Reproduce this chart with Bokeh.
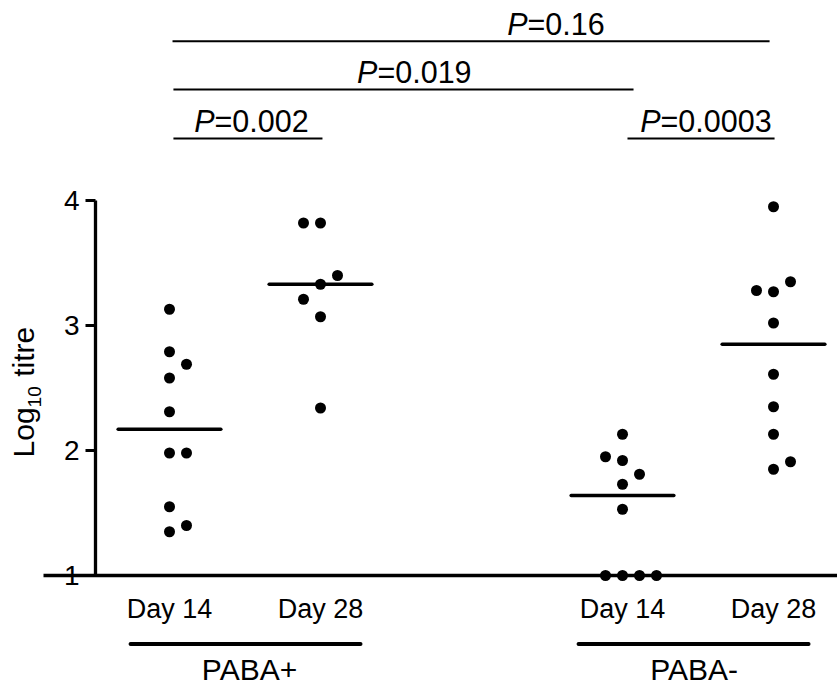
import math

from bokeh.plotting import figure
from bokeh.models import LinearAxis, FixedTicker, Range1d
from bokeh.core.properties import value
from bokeh.embed import file_html
from bokeh.resources import INLINE

# ---- data: log10 antibody titres ---------------------------------------
column_labels = ["Day 14", "Day 28", "Day 14", "Day 28"]
group_labels = ["PABA+", "PABA-"]

paba_plus_day14 = [3.13, 2.79, 2.69, 2.58, 2.31, 1.98, 1.98, 1.55, 1.40, 1.35]
paba_plus_day28 = [3.82, 3.82, 3.40, 3.33, 3.21, 3.07, 2.34]
paba_minus_day14 = [2.13, 1.95, 1.92, 1.81, 1.73, 1.53, 1.00, 1.00, 1.00, 1.00]
paba_minus_day28 = [3.95, 3.35, 3.28, 3.27, 3.02, 2.61, 2.35, 2.13, 1.91, 1.85]
column_means = [2.17, 3.33, 1.64, 2.85]

# pairwise comparisons: (column a, column b, P value text)
comparison_a = [0, 0, 1, 2]
comparison_b = [1, 2, 3, 3]
comparison_p = ["=0.002", "=0.019", "=0.16", "=0.0003"]

# axis title pieces: main text, subscript, main text
title_parts = ["Log", "10", "titre"]

# ---- layout -------------------------------------------------------------
FONT_NAME = "Liberation Sans"
FONT = value(FONT_NAME)
col_x = [1, 2, 4, 5]
dot_step = 0.1126
# side-by-side slots for overlapping points in each column
slots = [
    [0, 0, 1, 0, 0, 0, 1, 0, 1, 0],
    [-1, 0, 1, 0, -1, 0, 0],
    [0, -1, 0, 1, 0, 0, -1, 0, 1, 2],
    [0, 1, -1, 0, 0, 0, 0, 0, 1, 0],
]
mean_half = 0.34

# comparison bars: level and horizontal extent
bar_y = [4.496, 4.888, 5.274, 4.496]
bar_x0 = [1.026, 1.026, 1.020, 4.033]
bar_x1 = [2.013, 4.073, 4.974, 5.007]
label_anchor = [1.298, 2.377, 3.371, 4.252]
label_lift = 0.14

# group brackets under the day labels
group_x0 = [0.742, 3.709]
group_x1 = [2.265, 5.232]
group_line_y = 0.452
group_text_x = [1.53, 4.474]
group_text_y = 0.245

# rotated axis title: start of each piece along the axis, and its offset
title_x = [0.032, 0.032 + 0.072, 0.032]
title_y = [1.945, 2.345, 2.59]
title_sizes = ["30px", "19px", "30px"]

p = figure(
    width=837, height=688,
    x_range=Range1d(-0.1192, 5.4238), y_range=Range1d(0.096, 5.6),
    output_backend="svg", toolbar_location=None,
    x_axis_location=None, y_axis_location=None,
    min_border=0,
)
p.outline_line_color = None
p.grid.grid_line_color = None
p.background_fill_color = "white"
p.border_fill_color = "white"

# y axis
yaxis = LinearAxis(
    fixed_location=0.510, bounds=(1, 4),
    ticker=FixedTicker(ticks=[1, 2, 3, 4]),
    axis_line_width=3.3, axis_line_color="black",
    major_tick_line_width=3.0, major_tick_line_color="black",
    major_tick_out=10, major_tick_in=0,
    minor_tick_line_color=None,
    major_label_text_font=FONT_NAME, major_label_text_font_size="28px",
    major_label_text_color="black", major_label_standoff=6,
)
p.add_layout(yaxis, "left")

# x axis with the day labels
xaxis = LinearAxis(
    fixed_location=1, bounds=(0.166, 5.4238),
    ticker=FixedTicker(ticks=col_x),
    major_label_overrides={c: lab for c, lab in zip(col_x, column_labels)},
    axis_line_width=3.3, axis_line_color="black",
    major_tick_line_color=None, minor_tick_line_color=None,
    major_label_text_font=FONT_NAME, major_label_text_font_size="27px",
    major_label_text_color="black", major_label_standoff=12,
)
p.add_layout(xaxis, "below")

# axis title, written bottom to top
for tx, ty, txt, size in zip(title_x, title_y, title_parts, title_sizes):
    p.text(x=[tx], y=[ty], text=[txt], angle=math.pi / 2,
           text_font=FONT, text_font_size=size, text_color="black",
           text_align="left", text_baseline="middle")

# points
columns = [paba_plus_day14, paba_plus_day28, paba_minus_day14, paba_minus_day28]
xs, ys = [], []
for cx, vals, sl in zip(col_x, columns, slots):
    for v, s in zip(vals, sl):
        xs.append(cx + s * dot_step)
        ys.append(v)
p.scatter(x=xs, y=ys, size=11, marker="circle", fill_color="black", line_color=None)

# mean lines
p.segment(x0=[c - mean_half for c in col_x], x1=[c + mean_half for c in col_x],
          y0=column_means, y1=column_means,
          line_color="black", line_width=3.5, line_cap="round")

# group brackets and names
p.segment(x0=group_x0, x1=group_x1, y0=[group_line_y] * 2, y1=[group_line_y] * 2,
          line_color="black", line_width=4, line_cap="round")
p.text(x=group_text_x, y=[group_text_y] * 2, text=group_labels,
       text_font=FONT, text_font_size="30px", text_color="black",
       text_align="center", text_baseline="alphabetic")

# comparison bars with P values
p.segment(x0=bar_x0, x1=bar_x1, y0=bar_y, y1=bar_y, line_color="black", line_width=2)
label_y = [y + label_lift for y in bar_y]
p.text(x=label_anchor, y=label_y, text=["P"] * len(label_anchor),
       text_font=FONT, text_font_size="30.5px", text_font_style="italic",
       text_color="black", text_align="right", text_baseline="alphabetic")
p.text(x=label_anchor, y=label_y, text=comparison_p,
       text_font=FONT, text_font_size="30.5px", text_color="black",
       text_align="left", text_baseline="alphabetic")

open("out.html", "w").write(file_html(p, INLINE))
